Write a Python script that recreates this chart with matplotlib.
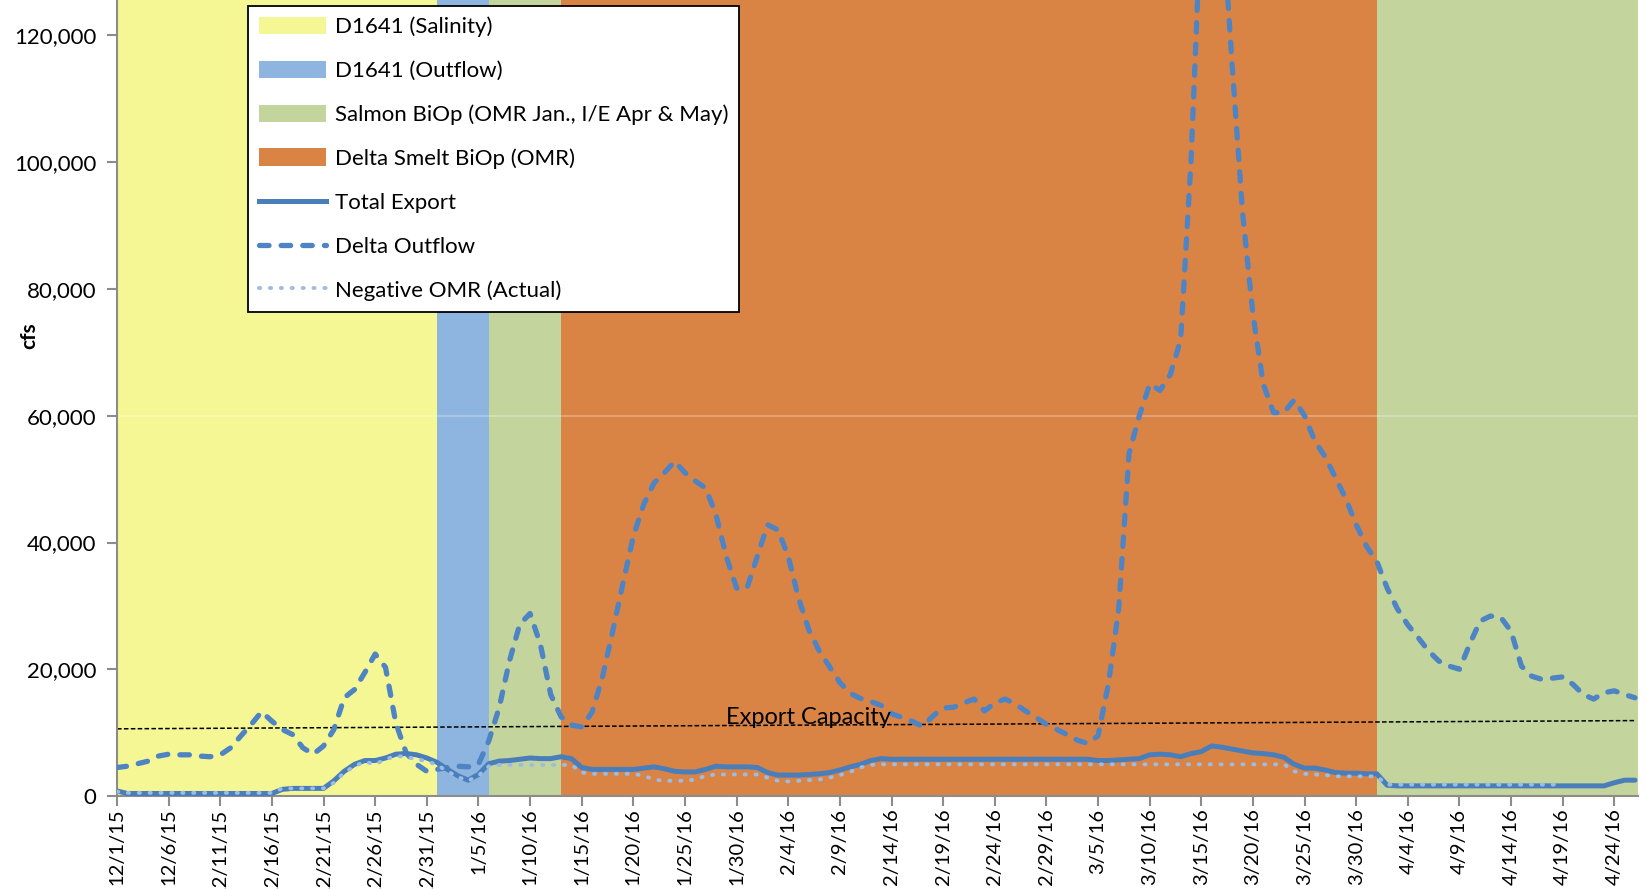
import matplotlib
matplotlib.use("Agg")
import matplotlib.pyplot as plt
import numpy as np
import pandas as pd
from matplotlib.patches import Patch
from matplotlib.lines import Line2D

plt.rcParams['font.family'] = ['Lato', 'DejaVu Sans']

# daily values (thousand cfs) from 12/1/15
start = pd.Timestamp('2015-12-01')

delta_outflow = [
    4.5, 4.7, 5.1, 5.5, 6.3, 6.6, 6.5, 6.5, 6.3, 6.2,
    6.5, 7.6, 9.5, 11.3, 13.3, 11.8, 10.5, 9.7, 7.6, 6.6,
    7.9, 10.5, 15.5, 16.8, 19.5, 22.4, 20.3, 11.5, 6.8, 5.0,
    3.9, 4.2, 4.5, 4.7, 4.6, 5.0, 8.7, 13.9, 21.3, 27.1,
    28.8, 23.9, 16.0, 12.5, 11.2, 10.9, 13.2, 18.7, 26.0, 33.6,
    41.0, 46.0, 49.4, 51.0, 52.8, 51.0, 49.7, 48.6, 44.4, 37.8,
    32.8, 32.8, 37.8, 42.8, 42.0, 37.8, 31.2, 26.2, 22.9, 20.4,
    17.9, 16.2, 15.4, 14.9, 14.3, 13.0, 12.4, 11.8, 11.0, 12.6,
    13.9, 14.0, 14.7, 15.3, 13.4, 14.7, 15.3, 14.5, 13.4, 12.4,
    11.3, 10.5, 9.7, 8.8, 8.3, 9.5, 17.6, 29.5, 54.0, 60.0,
    65.0, 64.0, 66.5, 72.0, 100.0, 140.0, 155.0, 140.0, 115.0, 92.0,
    76.0, 65.0, 60.5, 60.5, 62.5, 60.0, 56.0, 53.5, 50.2, 46.9,
    42.8, 39.4, 37.0, 32.8, 29.5, 27.0, 25.0, 22.9, 21.3, 20.5,
    20.0, 24.0, 27.6, 28.4, 28.2, 26.0, 20.5, 18.9, 18.4, 18.6,
    18.8, 17.6, 16.0, 15.3, 16.3, 16.6, 16.0, 15.5,
]

total_export = (
    [0.8, 0.4] + [0.4] * 14 +
    [1.05, 1.2, 1.2, 1.2, 1.2, 2.4, 3.9, 5.0, 5.6, 5.6,
     6.0, 6.6, 6.7, 6.5, 6.0, 5.3, 4.2, 3.2, 2.5, 3.4,
     5.1, 5.5, 5.6, 5.8, 6.0, 5.9, 5.9, 6.2, 5.9, 4.5,
     4.2, 4.2, 4.2, 4.2, 4.2, 4.4, 4.6, 4.3, 3.9, 3.8,
     3.8, 4.2, 4.7, 4.6, 4.6, 4.6, 4.5, 3.7, 3.3, 3.3,
     3.3, 3.4, 3.5, 3.7, 4.1, 4.6, 5.0, 5.6, 5.9] +
    [5.8] * 20 +
    [5.6, 5.6, 5.7, 5.8, 5.9, 6.5, 6.6, 6.5, 6.2, 6.7,
     7.0, 7.9, 7.7, 7.4, 7.1, 6.8, 6.7, 6.5, 6.1, 5.0,
     4.4, 4.4, 4.1, 3.7, 3.6, 3.6, 3.5, 3.5, 1.7] +
    [1.6] * 21 +
    [2.1, 2.5, 2.5]
)

negative_omr = (
    [0.7] + [0.5] * 15 +
    [1.2] * 5 +
    [2.1, 3.7, 4.7, 5.4, 5.0, 5.8, 6.3, 6.2, 5.8, 5.5,
     4.9, 3.9, 3.0, 2.4, 3.2, 4.7] +
    [4.9] * 8 +
    [3.7] + [3.5] * 5 +
    [3.2, 2.6, 2.4, 2.4, 2.4, 2.6, 3.2] +
    [3.4] * 5 +
    [2.9, 2.4, 2.3, 2.4, 2.5, 2.6, 2.9, 3.3, 3.8, 4.5, 4.9] +
    [5.0] * 40 +
    [3.9, 3.5, 3.4, 3.3] + [3.1] * 5 +
    [1.8] * 18
)

export_capacity = [10.6, 11.9]

# regulatory periods (start, end, colour, label)
periods = [
    ('2015-12-01', '2016-01-01', '#F5F794', 'D1641 (Salinity)'),
    ('2016-01-01', '2016-01-06', '#8EB4E0', 'D1641 (Outflow)'),
    ('2016-01-06', '2016-01-13', '#C3D59C', 'Salmon BiOp (OMR Jan., I/E Apr & May)'),
    ('2016-01-13', '2016-04-01', '#D98445', 'Delta Smelt BiOp (OMR)'),
    ('2016-04-01', '2016-04-28', '#C3D59C', None),
]

days_out = pd.date_range(start, periods=len(delta_outflow), freq='D')
days_exp = pd.date_range(start, periods=len(total_export), freq='D')
days_omr = pd.date_range(start, periods=len(negative_omr), freq='D')

fig = plt.figure(figsize=(16.46, 8.89), dpi=100)
ax = fig.add_axes([0.0711, 0.1046, 0.9241, 0.8954])

for s, e, c, lab in periods:
    ax.axvspan(pd.Timestamp(s), pd.Timestamp(e), color=c, lw=0, zorder=0)

ax.axhline(60000, color='white', alpha=0.3, lw=1.2, zorder=1)

line_blue = '#4A7EBB'
ax.plot(days_exp, np.array(total_export) * 1000, color=line_blue, lw=3.6,
        solid_capstyle='round', zorder=4)
ax.plot(days_omr, np.array(negative_omr) * 1000, color='#9CBCE2', lw=2.8,
        dashes=(0.3, 2.5), dash_capstyle='round', zorder=5)
ax.plot(days_out, np.array(delta_outflow) * 1000, color='#4F84C4', lw=3.8,
        dashes=(1.8, 2.3), dash_capstyle='round', zorder=3)

cap_x = [days_out[0], days_out[-1]]
ax.plot(cap_x, np.array(export_capacity) * 1000, color='black', lw=1.1,
        dashes=(3, 1.5), zorder=2)
ax.text(start + pd.Timedelta(days=67), 10800, 'Export Capacity', ha='center',
        va='bottom', fontsize=17, color='black', zorder=6)

ax.set_xlim(start, start + pd.Timedelta(days=147.3))
ax.set_ylim(0, 125600)

yt = np.arange(0, 120001, 20000)
ax.set_yticks(yt)
ax.set_yticklabels([f'{v:,}' for v in yt], fontsize=16)

xt = pd.date_range(start, '2016-04-26', freq='5D')
ax.set_xticks(xt)
ax.set_xticklabels([f'{d.month}/{d.day}/{d:%y}' for d in xt], rotation=90,
                   fontsize=14.5, va='top')

for side in ['top', 'right']:
    ax.spines[side].set_visible(False)
for side in ['left', 'bottom']:
    ax.spines[side].set_color('#8C8C8C')
    ax.spines[side].set_linewidth(1.5)
ax.tick_params(axis='both', colors='#8C8C8C', length=7, width=1.5, labelcolor='black')
ax.tick_params(axis='y', pad=8)
ax.tick_params(axis='x', pad=2)

fig.text(0.018, 0.622, 'cfs', rotation=90, fontsize=15, fontweight='bold',
         ha='center', va='center')

handles = [Patch(facecolor=c, edgecolor='none', label=lab)
           for s, e, c, lab in periods if lab]
handles += [
    Line2D([], [], color=line_blue, lw=3.6, label='Total Export'),
    Line2D([], [], color='#4F84C4', lw=3.8, dashes=(1.8, 2.3),
           dash_capstyle='round', label='Delta Outflow'),
    Line2D([], [], color='#9CBCE2', lw=2.8, dashes=(0.3, 2.5),
           dash_capstyle='round', label='Negative OMR (Actual)'),
]
leg = ax.legend(handles=handles, loc='upper left', bbox_to_anchor=(0.086, 0.993),
                borderaxespad=0, fontsize=16, frameon=True, fancybox=False,
                handlelength=3.0, handleheight=0.85, labelspacing=1.05,
                handletextpad=0.4, borderpad=0.5)
leg.get_frame().set_edgecolor('black')
leg.get_frame().set_linewidth(1.3)
leg.get_frame().set_alpha(1)
leg.set_zorder(10)

fig.savefig('out.png', dpi=100)
